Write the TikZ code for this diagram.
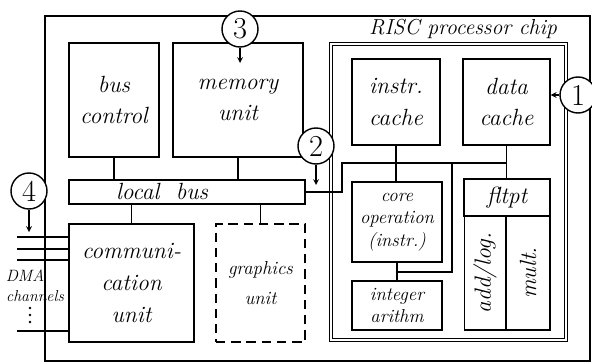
\documentclass[tikz,border=0pt]{standalone}
\usepackage{fontspec}
\usetikzlibrary{positioning}
\begin{document}
\begin{tikzpicture}[x=0.03cm, y=-0.03cm, line width=1.2pt, >=stealth,
        blockbox/.style={draw, rectangle, align=center, inner sep=0pt,
                font=\fontsize{20}{27}\selectfont\itshape},
        smallbox/.style={blockbox, font=\fontsize{16}{19}\selectfont\itshape},
        numcircle/.style={draw, circle, fill=white, minimum size=1.08cm,
                inner sep=0pt, font=\fontsize{26}{26}\selectfont}]
    \useasboundingbox (0,0) rectangle (592,363);

    % outer frame
    \draw (45,16) rectangle (590,361);

    % units on the board
    \node[blockbox, minimum width=2.7cm, minimum height=3.42cm] (busctrl) at (114,100) {bus\\control};
    \node[blockbox, minimum width=3.9cm, minimum height=3.42cm] (memory) at (238,100) {memory\\unit};
    \node[draw, rectangle, minimum width=7.08cm, minimum height=0.72cm] (localbus) at (187,192) {};
    \node[font=\fontsize{20}{22}\selectfont\itshape] (localbustext) at (162,191) {local\ \ bus};
    \node[blockbox, minimum width=3.75cm, minimum height=3.54cm] (comm) at (131.5,283) {communi-\\cation\\unit};
    \node[blockbox, dash pattern=on 8pt off 5pt, minimum width=2.67cm, minimum height=3.54cm,
        font=\fontsize{16}{26}\selectfont\itshape] (graphics) at (260.5,283) {graphics\\unit};

    % processor chip
    \node[draw, line width=0.9pt, double, double distance=1.8pt, minimum width=7.05cm, minimum height=8.88cm] (chip) at (448.5,192) {};
    \node[font=\fontsize{18.5}{20}\selectfont\itshape] (chiptext) at (463,29) {RISC processor chip};
    \node[blockbox, minimum width=2.64cm, minimum height=2.58cm] (icache) at (396,102) {instr.\\cache};
    \node[blockbox, minimum width=2.61cm, minimum height=2.58cm] (dcache) at (506.5,102) {data\\cache};
    \node[smallbox, minimum width=2.7cm, minimum height=2.4cm] (core) at (397,222) {core\\operation\\(instr.)};
    \node[smallbox, minimum width=2.7cm, minimum height=1.47cm] (intarith) at (397,305.5) {integer\\arithm};
    \node[blockbox, minimum width=2.58cm, minimum height=1.11cm] (fltpt) at (507,197.5) {fltpt};
    \node[blockbox, minimum width=1.23cm, minimum height=3.42cm] (addlog) at (485,273) {};
    \node[blockbox, minimum width=1.32cm, minimum height=3.42cm] (mult) at (528,273) {};
    \node[font=\fontsize{20}{22}\selectfont\itshape, rotate=90] (addlogtext) at (addlog) {add/log.};
    \node[font=\fontsize{20}{22}\selectfont\itshape, rotate=90] (multtext) at (mult) {mult.};

    % board connections
    \draw (busctrl.south) -- (busctrl.south |- localbus.north);
    \draw (memory.south) -- (memory.south |- localbus.north);
    \draw (comm.north) -- (comm.north |- localbus.south);
    \draw (graphics.north) -- (graphics.north |- localbus.south);

    % chip bus
    \coordinate (busw) at (342,163);
    \coordinate (tap) at (452,163);
    \coordinate (coremid) at (397,272);
    \draw (localbus.east) -| (busw) -- (busw -| dcache.south);
    \draw (icache.south) -- (icache.south |- core.north);
    \draw (dcache.south) -- (dcache.south |- fltpt.north);
    \draw (core.south) -- (intarith.north);
    \draw (tap) |- (coremid);

    % DMA channels
    \foreach \y in {237,249,260,331} {
            \draw (17,\y) -- (comm.west |- 0,\y);
        }
    \node[font=\fontsize{14}{15}\selectfont\itshape] (dmatext) at (25,276) {DMA};
    \node[font=\fontsize{13.5}{15}\selectfont\itshape] (chantext) at (35,296) {channels};
    \foreach \y in {308,315,322} {
            \fill (30,\y) circle (1.2pt);
        }

    % numbered markers
    \node[numcircle] (n1) at (578,95) {1};
    \node[numcircle] (n2) at (316,146) {2};
    \node[numcircle] (n3) at (240,29) {3};
    \node[numcircle] (n4) at (29,191) {4};
    \coordinate (n2end) at (316,185);
    \coordinate (n3end) at (240,63);
    \coordinate (n4end) at (29,232);
    \draw[->] (n1.west) -- (n1.west -| dcache.east);
    \draw[->] (n2.south) -- (n2end);
    \draw[->] (n3.south) -- (n3end);
    \draw[->] (n4.south) -- (n4end);
\end{tikzpicture}
\end{document}
